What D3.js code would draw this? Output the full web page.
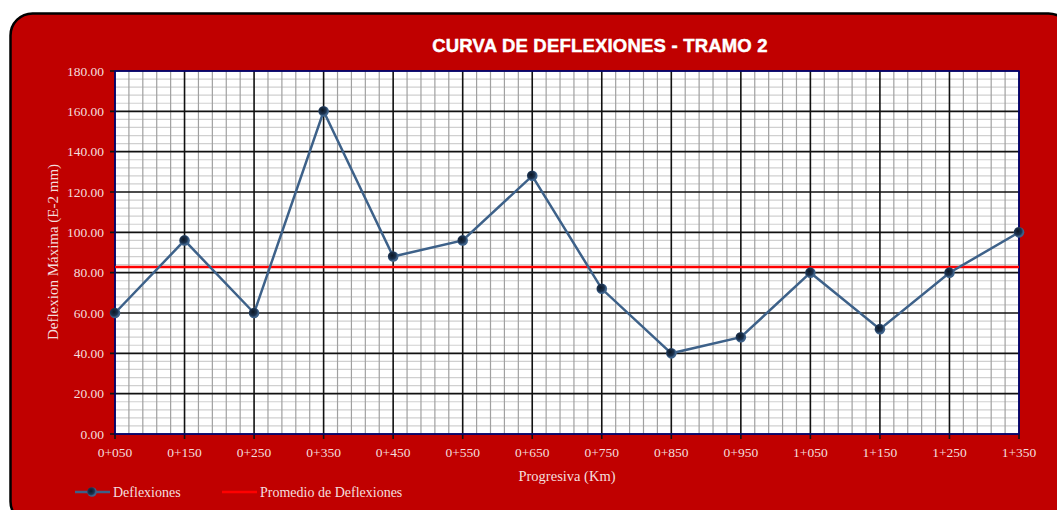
<!DOCTYPE html>
<html>
<head>
<meta charset="utf-8">
<script src="https://cdn.jsdelivr.net/npm/d3@7"></script>
<style>
  html, body { margin: 0; padding: 0; background: #fff; }
  svg { display: block; }
</style>
</head>
<body>
<div id="chart"></div>
<script>
// Chart data.
const progresivas = ['0+050', '0+150', '0+250', '0+350', '0+450', '0+550', '0+650',
    '0+750', '0+850', '0+950', '1+050', '1+150', '1+250', '1+350'];
const deflexiones = [60, 96, 60, 160, 88, 96, 128, 72, 40, 48, 80, 52, 80, 100];
const yTicks = [0, 20, 40, 60, 80, 100, 120, 140, 160, 180];

const W = 1057, H = 510;
const M = { left: 115, right: 1019, top: 71, bottom: 434 };
const COL = {
    card: '#c00000',
    text: '#f4dede',
    line: '#3d6189',
    avg: '#ff0000',
    frame: '#000080',
};

const promedio = d3.mean(deflexiones);

const svg = d3.select('#chart').append('svg')
    .attr('width', W).attr('height', H);

const defs = svg.append('defs');
const grad = defs.append('radialGradient').attr('id', 'mk').attr('cx', '40%').attr('cy', '40%');
grad.append('stop').attr('offset', '0%').attr('stop-color', '#0d1724');
grad.append('stop').attr('offset', '70%').attr('stop-color', '#1c3350');
grad.append('stop').attr('offset', '100%').attr('stop-color', '#3d6189');

// card with shadow + black border
svg.append('rect')
    .attr('x', 12).attr('y', 15).attr('width', 1060).attr('height', 510)
    .attr('rx', 22).attr('fill', '#9a9a9a');
svg.append('rect')
    .attr('x', 10.5).attr('y', 13.5).attr('width', 1060).attr('height', 510)
    .attr('rx', 22).attr('fill', COL.card)
    .attr('stroke', '#000').attr('stroke-width', 2.5);

svg.append('text')
    .attr('x', 600).attr('y', 52)
    .attr('text-anchor', 'middle')
    .attr('fill', '#fff')
    .attr('stroke', '#fff').attr('stroke-width', 0.45)
    .attr('letter-spacing', 0.2)
    .attr('font-family', 'Liberation Sans, Arial, sans-serif')
    .attr('font-weight', 'bold')
    .attr('font-size', 18.5)
    .text('CURVA DE DEFLEXIONES - TRAMO 2');

const x = d3.scalePoint().domain(progresivas).range([M.left, M.right]);
const y = d3.scaleLinear().domain([0, 180]).range([M.bottom, M.top]);

// plot background
svg.append('rect')
    .attr('x', M.left).attr('y', M.top)
    .attr('width', M.right - M.left).attr('height', M.bottom - M.top)
    .attr('fill', '#fff');

const grid = svg.append('g');
const step = x.step();

// minor horizontal (every 4 units)
const minorY = d3.range(0, 181, 4).filter((v) => v % 20 !== 0);
grid.selectAll('line.my').data(minorY).enter().append('line')
    .attr('x1', M.left).attr('x2', M.right)
    .attr('y1', (d) => y(d)).attr('y2', (d) => y(d))
    .attr('stroke', '#d0d0d0').attr('stroke-width', 1.2);

// minor vertical (5 per category step)
const minorX = [];
progresivas.slice(0, -1).forEach((p) => {
    for (let i = 1; i < 5; i++) minorX.push(x(p) + step * i / 5);
});
grid.selectAll('line.mx').data(minorX).enter().append('line')
    .attr('x1', (d) => d).attr('x2', (d) => d)
    .attr('y1', M.top).attr('y2', M.bottom)
    .attr('stroke', '#a0a0a0').attr('stroke-width', 1.2);

// major grid
grid.selectAll('line.My').data(yTicks).enter().append('line')
    .attr('x1', M.left - 5).attr('x2', M.right)
    .attr('y1', (d) => y(d)).attr('y2', (d) => y(d))
    .attr('stroke', '#111').attr('stroke-width', 1.6);
grid.selectAll('line.Mx').data(progresivas).enter().append('line')
    .attr('x1', (d) => x(d)).attr('x2', (d) => x(d))
    .attr('y1', M.top).attr('y2', M.bottom + 5)
    .attr('stroke', '#111').attr('stroke-width', 1.6);

// frame
svg.append('rect')
    .attr('x', M.left).attr('y', M.top)
    .attr('width', M.right - M.left).attr('height', M.bottom - M.top)
    .attr('fill', 'none').attr('stroke', COL.frame).attr('stroke-width', 1.5);

// axes labels
const serif = 'Liberation Serif, Times New Roman, serif';
svg.append('g').selectAll('text').data(yTicks).enter().append('text')
    .attr('x', 104).attr('y', (d) => y(d) + 4.5)
    .attr('text-anchor', 'end')
    .attr('fill', COL.text).attr('font-family', serif).attr('font-size', 13.5)
    .text((d) => d.toFixed(2));
svg.append('g').selectAll('text').data(progresivas).enter().append('text')
    .attr('x', (d) => x(d)).attr('y', 457)
    .attr('text-anchor', 'middle')
    .attr('fill', COL.text).attr('font-family', serif).attr('font-size', 13.5)
    .text((d) => d);

svg.append('text')
    .attr('transform', 'translate(58,' + 252 + ') rotate(-90)')
    .attr('text-anchor', 'middle')
    .attr('fill', COL.text).attr('font-family', serif).attr('font-size', 15)
    .text('Deflexion Máxima (E-2 mm)');
svg.append('text')
    .attr('x', 567).attr('y', 481)
    .attr('text-anchor', 'middle')
    .attr('fill', COL.text).attr('font-family', serif).attr('font-size', 14.5)
    .text('Progresiva (Km)');

// average line
svg.append('line')
    .attr('x1', M.left).attr('x2', M.right)
    .attr('y1', y(promedio)).attr('y2', y(promedio))
    .attr('stroke', COL.avg).attr('stroke-width', 2.5);

// series
const pts = progresivas.map((p, i) => ({ p, v: deflexiones[i] }));
svg.append('path')
    .datum(pts)
    .attr('fill', 'none')
    .attr('stroke', COL.line).attr('stroke-width', 2.5)
    .attr('d', d3.line().x((d) => x(d.p)).y((d) => y(d.v)));
svg.append('g').selectAll('circle').data(pts).enter().append('circle')
    .attr('cx', (d) => x(d.p)).attr('cy', (d) => y(d.v))
    .attr('r', 5.3).attr('fill', 'url(#mk)');

// legend
const lg = svg.append('g').attr('font-family', serif).attr('font-size', 14).attr('fill', COL.text);
lg.append('line').attr('x1', 75).attr('x2', 110).attr('y1', 492).attr('y2', 492)
    .attr('stroke', COL.line).attr('stroke-width', 2.5);
lg.append('circle').attr('cx', 92).attr('cy', 492).attr('r', 4.8).attr('fill', 'url(#mk)');
lg.append('text').attr('x', 113).attr('y', 497).text('Deflexiones');
lg.append('line').attr('x1', 222).attr('x2', 257).attr('y1', 492).attr('y2', 492)
    .attr('stroke', COL.avg).attr('stroke-width', 2.5);
lg.append('text').attr('x', 260).attr('y', 497).text('Promedio de Deflexiones');
</script>
</body>
</html>
